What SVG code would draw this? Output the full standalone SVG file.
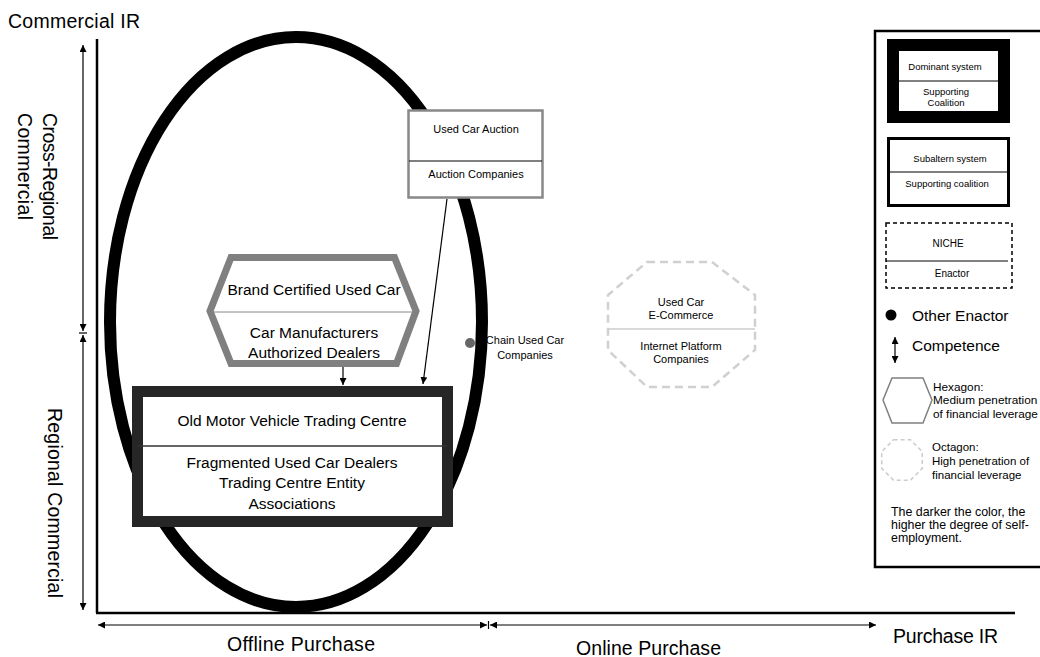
<svg xmlns="http://www.w3.org/2000/svg" width="1040" height="657" viewBox="0 0 1040 657">
<style>
text{font-family:"Liberation Sans",Arial,sans-serif;fill:#000}
.ax{font-size:19.5px}
.nd{font-size:15.5px}
.sm{font-size:11px}
.lg{font-size:9.5px}
.ln{stroke:#000;stroke-width:1.2;fill:none}
</style>
<defs>
<marker id="ah" viewBox="0 0 10 10" refX="10" refY="5" markerWidth="7" markerHeight="7" markerUnits="userSpaceOnUse" orient="auto-start-reverse">
<path d="M0,0 L10,5 L0,10 z" fill="#000"/>
</marker>
</defs>
<rect width="1040" height="657" fill="#fff"/>

<g id="axes">
<line x1="97" y1="39" x2="97" y2="613" stroke="#000" stroke-width="2.5"/>
<line x1="96" y1="613" x2="1015" y2="613" stroke="#000" stroke-width="2.5"/>
<line class="ln" x1="83" y1="45" x2="83" y2="331" marker-start="url(#ah)" marker-end="url(#ah)"/>
<line class="ln" x1="83" y1="335" x2="83" y2="610" marker-start="url(#ah)" marker-end="url(#ah)"/>
<line class="ln" x1="79" y1="333" x2="87" y2="333"/>
<line class="ln" x1="98" y1="625" x2="487" y2="625" marker-start="url(#ah)" marker-end="url(#ah)"/>
<line class="ln" x1="490" y1="625" x2="876" y2="625" marker-start="url(#ah)" marker-end="url(#ah)"/>
<line class="ln" x1="488.5" y1="621" x2="488.5" y2="629"/>
<text class="ax" x="8" y="28" textLength="132">Commercial IR</text>
<text class="ax" transform="translate(43,113) rotate(90)" textLength="127">Cross-Regional</text>
<text class="ax" transform="translate(18,113) rotate(90)" textLength="107">Commercial</text>
<text class="ax" transform="translate(48,408) rotate(90)" textLength="190">Regional Commercial</text>
<text class="ax" x="227" y="651" textLength="148">Offline Purchase</text>
<text class="ax" x="576" y="655" textLength="145">Online Purchase</text>
<text class="ax" x="893" y="643" textLength="105">Purchase IR</text>
</g>

<g id="regime">
<ellipse cx="296" cy="322" rx="186" ry="285" fill="none" stroke="#000" stroke-width="12"/>
</g>

<g id="connectors">
<line class="ln" x1="343" y1="367" x2="343" y2="385" marker-end="url(#ah)"/>
<line class="ln" x1="447" y1="199" x2="423" y2="384" marker-end="url(#ah)"/>
</g>

<g id="auction">
<rect x="408.5" y="110.5" width="134" height="87" fill="#fff" stroke="#888" stroke-width="2.5"/>
<line x1="409" y1="161" x2="542" y2="161" stroke="#000" stroke-width="1"/>
<text class="sm" x="476" y="133" text-anchor="middle">Used Car Auction</text>
<text class="sm" x="476" y="178" text-anchor="middle">Auction Companies</text>
</g>

<g id="brand">
<polygon points="231,257.5 394.5,257.5 416,311 396.5,363.5 231,363.5 210,311" fill="#fff" stroke="#808080" stroke-width="7"/>
<line x1="213" y1="312" x2="414" y2="312" stroke="#888" stroke-width="1"/>
<text class="nd" x="314" y="295" text-anchor="middle">Brand Certified Used Car</text>
<text class="nd" x="314" y="338" text-anchor="middle">Car Manufacturers</text>
<text class="nd" x="314" y="358" text-anchor="middle">Authorized Dealers</text>
</g>

<g id="oldmotor">
<rect x="137.5" y="391.5" width="310" height="130" fill="#fff" stroke="#262626" stroke-width="11"/>
<line x1="138" y1="446" x2="447" y2="446" stroke="#333" stroke-width="1.5"/>
<text class="nd" x="292" y="426" text-anchor="middle">Old Motor Vehicle Trading Centre</text>
<text class="nd" x="292" y="468" text-anchor="middle">Fragmented Used Car Dealers</text>
<text class="nd" x="292" y="488" text-anchor="middle">Trading Centre Entity</text>
<text class="nd" x="292" y="509" text-anchor="middle">Associations</text>
</g>

<g id="chain">
<circle cx="470" cy="343" r="5" fill="#666"/>
<text class="sm" x="525" y="344" text-anchor="middle">Chain Used Car</text>
<text class="sm" x="525" y="359" text-anchor="middle">Companies</text>
</g>

<g id="ecommerce">
<polygon points="647,262 712,262 755,295 755,350 712,387 647,387 608,350 608,295" fill="none" stroke="#d0d0d0" stroke-width="2.5" stroke-dasharray="8,5"/>
<line x1="609" y1="329" x2="755" y2="329" stroke="#ccc" stroke-width="1.5"/>
<text class="sm" x="681" y="306" text-anchor="middle">Used Car</text>
<text class="sm" x="681" y="319" text-anchor="middle">E-Commerce</text>
<text class="sm" x="681" y="350" text-anchor="middle">Internet Platform</text>
<text class="sm" x="681" y="363" text-anchor="middle">Companies</text>
</g>

<g id="legend">
<rect x="875" y="31" width="175" height="536" fill="none" stroke="#000" stroke-width="2.5"/>
<rect x="893" y="45" width="111" height="72" fill="#fff" stroke="#000" stroke-width="12"/>
<line x1="899" y1="81" x2="999" y2="81" stroke="#000" stroke-width="1"/>
<text class="lg" x="945" y="70" text-anchor="middle">Dominant system</text>
<text class="lg" x="946" y="95" text-anchor="middle">Supporting</text>
<text class="lg" x="946" y="106" text-anchor="middle">Coalition</text>
<rect x="888.5" y="138.5" width="120" height="67" fill="#fff" stroke="#000" stroke-width="3"/>
<line x1="888" y1="172" x2="1009" y2="172" stroke="#000" stroke-width="1"/>
<text class="lg" x="950" y="162" text-anchor="middle">Subaltern system</text>
<text class="lg" x="947" y="187" text-anchor="middle">Supporting coalition</text>
<rect x="886" y="223" width="126" height="65" fill="none" stroke="#000" stroke-width="1.5" stroke-dasharray="4,3"/>
<line x1="886" y1="261" x2="1008" y2="261" stroke="#000" stroke-width="1"/>
<text x="948" y="247" text-anchor="middle" font-size="10">NICHE</text>
<text x="952" y="277" text-anchor="middle" font-size="10">Enactor</text>
<circle cx="891" cy="315" r="5.5" fill="#000"/>
<text x="912" y="321" font-size="15.5">Other Enactor</text>
<line class="ln" x1="895" y1="337" x2="895" y2="363" marker-start="url(#ah)" marker-end="url(#ah)"/>
<text x="912" y="351" font-size="15.5">Competence</text>
<polygon points="892,378 923,378 932,400 923,423 892,423 883,400" fill="none" stroke="#808080" stroke-width="1.5"/>
<text x="933" y="391" font-size="11.8">Hexagon:</text>
<text x="933" y="404" font-size="11.8">Medium penetration</text>
<text x="933" y="418" font-size="11.8">of financial leverage</text>
<polygon points="893.6,439.7 910.4,439.7 922.3,451.6 922.3,468.4 910.4,480.3 893.6,480.3 881.7,468.4 881.7,451.6" fill="none" stroke="#ccc" stroke-width="1.5" stroke-dasharray="4,3"/>
<text x="932" y="451" font-size="11.5">Octagon:</text>
<text x="932" y="465" font-size="11.5">High penetration of</text>
<text x="932" y="479" font-size="11.5">financial leverage</text>
<text x="891" y="516" font-size="12.4">The darker the color, the</text>
<text x="891" y="529" font-size="12.4">higher the degree of self-</text>
<text x="891" y="542" font-size="12.4">employment.</text>
</g>
</svg>
